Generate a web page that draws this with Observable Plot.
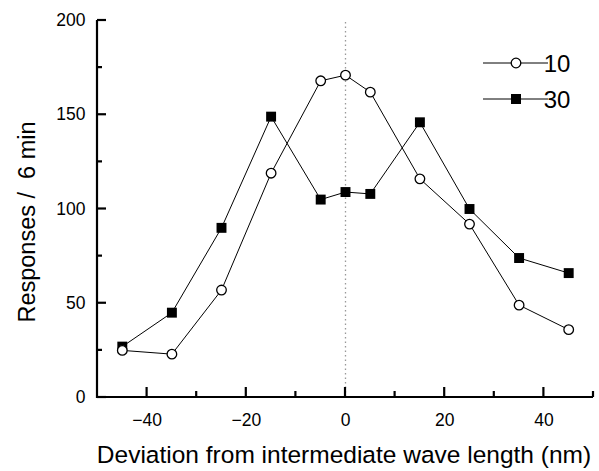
<!DOCTYPE html>
<html>
<head>
<meta charset="utf-8">
<script src="https://cdn.jsdelivr.net/npm/d3@7"></script>
<script src="https://cdn.jsdelivr.net/npm/@observablehq/plot@0.6"></script>
<style>
  html, body { margin: 0; padding: 0; background: #fff; }
  #chart { width: 599px; height: 471px; }
</style>
</head>
<body>
<div id="chart"></div>
<script>
const deviations = [-45, -35, -25, -15, -5, 0, 5, 15, 25, 35, 45];
const series10 = [25, 23, 57, 119, 168, 171, 162, 116, 92, 49, 36];
const series30 = [27, 45, 90, 149, 105, 109, 108, 146, 100, 74, 66];
const seriesNames = ["10", "30"];
const xMajorTicks = [-40, -20, 0, 20, 40];
const xMinorTicks = [-30, -10, 10, 30, 50];
const yMajorTicks = [0, 50, 100, 150, 200];
const yMinorTicks = [25, 75, 125, 175];
const xTitle = "Deviation from intermediate wave length (nm)";
const yTitle = "Responses /  6 min";

const rows10 = deviations.map((d, i) => ({x: d, y: series10[i]}));
const rows30 = deviations.map((d, i) => ({x: d, y: series30[i]}));

const font = "'Liberation Sans', Arial, Helvetica, sans-serif";

const plot = Plot.plot({
  width: 599,
  height: 471,
  marginLeft: 97,
  marginRight: 6,
  marginTop: 20,
  marginBottom: 74,
  style: {fontFamily: font, fontSize: "17.5px", background: "white"},
  x: {domain: [-50, 50]},
  y: {domain: [0, 200]},
  marks: [
    Plot.ruleX([0], {y1: 0, y2: 200, stroke: "#999", strokeWidth: 1.3, strokeDasharray: "1.5,3"}),
    Plot.axisX({ticks: xMajorTicks, tickSize: 0, tickPadding: 16, label: null, fill: "black", fontSize: 17.5}),
    Plot.axisY({ticks: yMajorTicks, tickSize: 0, tickPadding: 12, label: null, fill: "black", fontSize: 17.5}),
    Plot.line(rows30, {x: "x", y: "y", stroke: "black", strokeWidth: 1}),
    Plot.line(rows10, {x: "x", y: "y", stroke: "black", strokeWidth: 1}),
    Plot.dot(rows30, {x: "x", y: "y", symbol: "square", r: 5.6, fill: "black", stroke: "none"}),
    Plot.dot(rows10, {x: "x", y: "y", symbol: "circle", r: 4.8, fill: "white", stroke: "black", strokeWidth: 1.3})
  ]
});

document.getElementById("chart").appendChild(plot);

const svg = d3.select(plot);
const sx = plot.scale("x"), sy = plot.scale("y");
const [xMin, xMax] = sx.domain;
const [yMin, yMax] = sy.domain;

// axis lines and inward ticks, positioned through Plot's scales
const axes = svg.append("g").attr("stroke", "#000").attr("stroke-width", 2.2).attr("fill", "none");
axes.append("line")
  .attr("x1", sx.apply(xMin) - 1).attr("x2", sx.apply(xMax))
  .attr("y1", sy.apply(yMin)).attr("y2", sy.apply(yMin));
axes.append("line")
  .attr("x1", sx.apply(xMin)).attr("x2", sx.apply(xMin))
  .attr("y1", sy.apply(yMin) + 1).attr("y2", sy.apply(yMax));
const addXTicks = (ticks, len) => ticks.forEach(t => axes.append("line")
  .attr("x1", sx.apply(t)).attr("x2", sx.apply(t))
  .attr("y1", sy.apply(yMin)).attr("y2", sy.apply(yMin) - len));
const addYTicks = (ticks, len) => ticks.forEach(t => axes.append("line")
  .attr("y1", sy.apply(t)).attr("y2", sy.apply(t))
  .attr("x1", sx.apply(xMin)).attr("x2", sx.apply(xMin) + len));
addXTicks(xMajorTicks, 10);
addXTicks(xMinorTicks, 6);
addYTicks(yMajorTicks, 9);
addYTicks(yMinorTicks, 5);

// axis titles
svg.append("text")
  .attr("x", (sx.apply(xMin) + sx.apply(xMax)) / 2 - 1).attr("y", 463)
  .attr("text-anchor", "middle")
  .attr("font-family", font).attr("font-size", 24.5)
  .attr("fill", "black")
  .text(xTitle);
svg.append("text")
  .attr("transform", "translate(35,222) rotate(-90)")
  .attr("text-anchor", "middle")
  .attr("font-family", font).attr("font-size", 23.5)
  .attr("fill", "black")
  .style("white-space", "pre")
  .text(yTitle);

// legend
const legend = svg.append("g").attr("class", "legend");
const legendYs = [63, 99];
seriesNames.forEach((name, i) => {
  const g = legend.append("g").attr("transform", `translate(0,${legendYs[i]})`);
  g.append("line").attr("x1", 483).attr("x2", 548).attr("y1", 0).attr("y2", 0)
    .attr("stroke", "black").attr("stroke-width", 1);
  if (i === 0) {
    g.append("circle").attr("cx", 516).attr("cy", 0).attr("r", 4.8)
      .attr("fill", "white").attr("stroke", "black").attr("stroke-width", 1.3);
  } else {
    g.append("rect").attr("x", 511).attr("y", -5).attr("width", 10).attr("height", 10)
      .attr("fill", "black");
  }
  g.append("text").attr("x", 557).attr("y", 0).attr("dy", "0.36em")
    .attr("font-family", font).attr("font-size", 24).attr("fill", "black")
    .text(name);
});
</script>
</body>
</html>
